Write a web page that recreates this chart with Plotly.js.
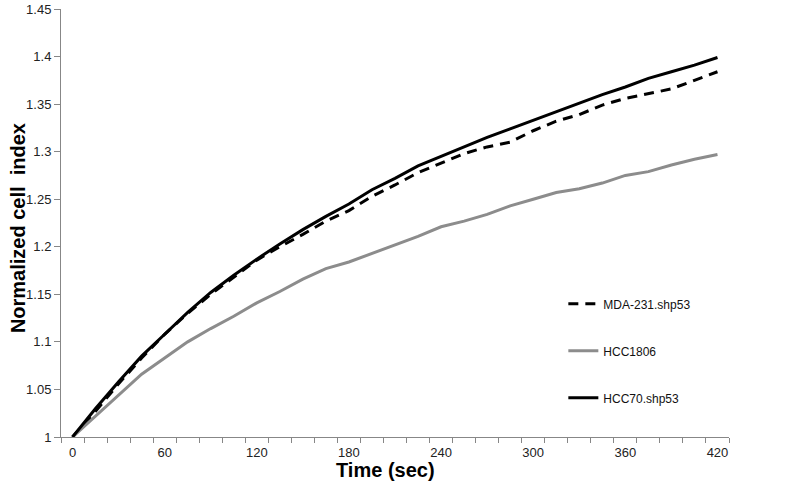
<!DOCTYPE html>
<html>
<head>
<meta charset="utf-8">
<script src="https://cdn.plot.ly/plotly-3.0.1.min.js"></script>
<style>html,body{margin:0;padding:0;background:#fff;}#chart{width:788px;height:488px;}</style>
</head>
<body>
<div id="chart"></div>
<script>
const timeSec = [0,15,30,45,60,75,90,105,120,135,150,165,180,195,210,225,240,255,270,285,300,315,330,345,360,375,390,405,420];
const mda231Shp53 = [1.000,1.027,1.056,1.083,1.108,1.130,1.150,1.168,1.186,1.200,1.213,1.227,1.238,1.253,1.265,1.278,1.288,1.298,1.305,1.310,1.322,1.332,1.339,1.349,1.356,1.361,1.366,1.375,1.384];
const hcc1806 = [1.000,1.022,1.045,1.066,1.083,1.100,1.114,1.127,1.141,1.153,1.166,1.177,1.184,1.193,1.202,1.211,1.221,1.227,1.234,1.243,1.250,1.257,1.261,1.267,1.275,1.279,1.286,1.292,1.297];
const hcc70Shp53 = [1.000,1.030,1.058,1.085,1.108,1.131,1.152,1.170,1.187,1.203,1.218,1.232,1.245,1.260,1.272,1.285,1.295,1.305,1.315,1.324,1.333,1.342,1.351,1.360,1.368,1.377,1.384,1.391,1.399];
const seriesNames = ['MDA-231.shp53','HCC1806','HCC70.shp53'];
const xTickVals = [0,60,120,180,240,300,360,420];
const xTickText = ['0','60','120','180','240','300','360','420'];
const yTickVals = [1,1.05,1.1,1.15,1.2,1.25,1.3,1.35,1.4,1.45];
const yTickText = ['1','1.05','1.1','1.15','1.2','1.25','1.3','1.35','1.4','1.45'];
const xTitle = 'Time (sec)';
const yTitle = 'Normalized cell\u00a0 index';

const font = 'Liberation Sans, Arial, sans-serif';
const traces = [
  {x: timeSec, y: mda231Shp53, name: seriesNames[0], legendgroup: 'a', mode: 'lines',
   line: {color: '#000000', width: 3, dash: '10px,7px'}},
  {x: timeSec, y: hcc1806, name: seriesNames[1], legendgroup: 'b', mode: 'lines',
   line: {color: '#8c8c8c', width: 3}},
  {x: timeSec, y: hcc70Shp53, name: seriesNames[2], legendgroup: 'c', mode: 'lines',
   line: {color: '#000000', width: 3}}
];
const layout = {
  width: 788, height: 488,
  margin: {l: 61, r: 59, t: 9, b: 51, pad: 0},
  paper_bgcolor: '#ffffff', plot_bgcolor: '#ffffff',
  font: {family: font, size: 13, color: '#222222'},
  showlegend: true,
  legend: {x: 0.752, y: 0.345, xanchor: 'left', yanchor: 'top', bgcolor: 'rgba(0,0,0,0)',
           borderwidth: 0, tracegroupgap: 28, font: {family: font, size: 12, color: '#111111'},
           traceorder: 'grouped'},
  xaxis: {
    range: [-7.5, 427.5], showgrid: false, zeroline: false, automargin: false,
    showline: true, linecolor: '#878787', linewidth: 1,
    tickmode: 'array', tickvals: xTickVals, ticktext: xTickText,
    ticks: 'outside', ticklen: 3, tickcolor: 'rgba(0,0,0,0)',
    minor: {tick0: -7.5, dtick: 15, ticks: 'outside', ticklen: 5, tickcolor: '#878787', showgrid: false},
    tickfont: {family: font, size: 13, color: '#222222'}
  },
  yaxis: {
    range: [1, 1.45], showgrid: false, zeroline: false, automargin: false,
    showline: true, linecolor: '#878787', linewidth: 1,
    tickmode: 'array', tickvals: yTickVals, ticktext: yTickText,
    ticks: 'outside', ticklen: 6, tickcolor: '#878787',
    tickfont: {family: font, size: 13, color: '#222222'}
  },
  annotations: [
    {text: '<b>' + xTitle + '</b>', xref: 'paper', yref: 'paper', x: 0.4865, y: -0.078,
     xanchor: 'center', yanchor: 'middle', showarrow: false,
     font: {family: font, size: 20, color: '#000000'}},
    {text: '<b>' + yTitle + '</b>', xref: 'paper', yref: 'paper', x: -0.0644, y: 0.488,
     xanchor: 'center', yanchor: 'middle', showarrow: false, textangle: -90,
     font: {family: font, size: 20, color: '#000000'}}
  ]
};
Plotly.newPlot('chart', traces, layout, {displayModeBar: false, staticPlot: true});
</script>
</body>
</html>
